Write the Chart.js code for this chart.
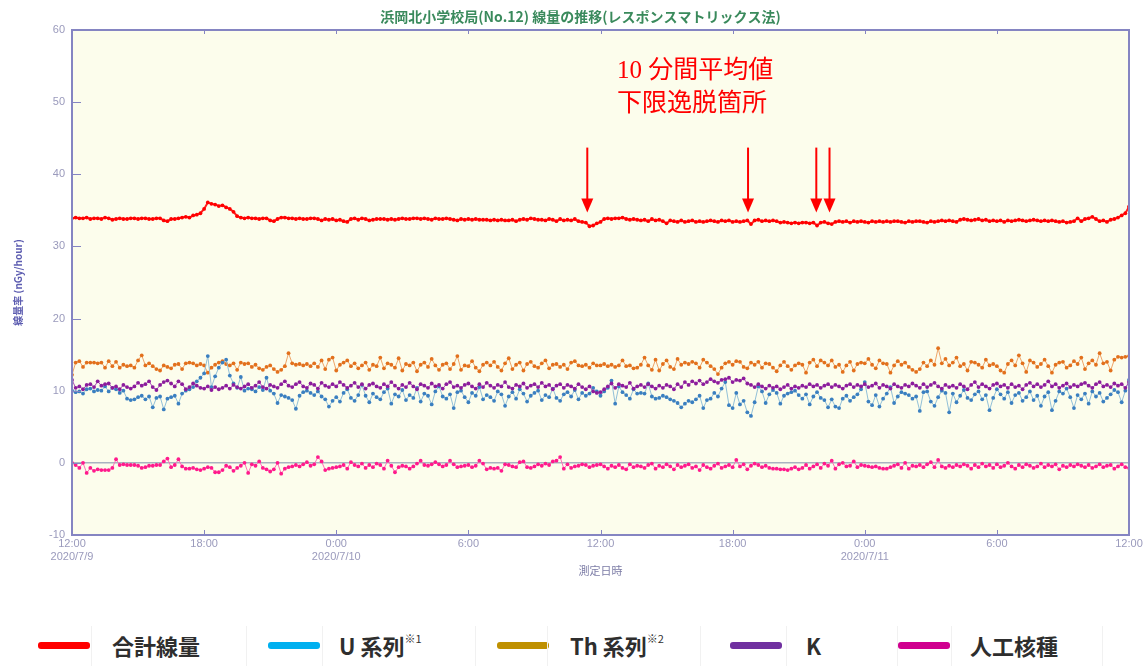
<!DOCTYPE html>
<html lang="ja">
<head>
<meta charset="utf-8">
<title>浜岡北小学校局 線量の推移</title>
<script src="https://cdn.jsdelivr.net/npm/chart.js@4.4.1/dist/chart.umd.min.js"></script>
<style>
  html, body { margin: 0; padding: 0; background: #fff; }
  #wrap { position: relative; width: 1147px; height: 666px; overflow: hidden; }
  #chart { position: absolute; left: 0; top: 0; }
  .legend { position: absolute; left: 0; top: 626px; width: 1147px; height: 40px;
            font-family: "Noto Sans CJK JP", sans-serif; font-weight: bold; font-size: 22px; color: #2e2e2e; }
  .swatch { position: absolute; top: 16px; width: 52px; height: 7px; border-radius: 3px; }
  .cell { position: absolute; top: 0; height: 40px; border-left: 1px solid #f1f1f1; border-right: 1px solid #f1f1f1; }
  .txt { position: absolute; top: 2px; line-height: 34px; white-space: nowrap; }
  .txt sup { font-size: 11px; vertical-align: top; line-height: 20px; font-weight: normal; }
</style>
</head>
<body>
<div id="wrap">
  <canvas id="chart" width="1147" height="600"></canvas>
  <div class="legend">
    <div class="swatch" style="left:38px;background:#ff0000"></div>
    <div class="cell" style="left:91px;width:154px"></div><div class="txt" style="left:112px">合計線量</div>
    <div class="swatch" style="left:268px;background:#00b0f0"></div>
    <div class="cell" style="left:322px;width:152px"></div><div class="txt" style="left:339px">U 系列<sup>※1</sup></div>
    <div class="swatch" style="left:497px;background:#bf9000"></div>
    <div class="cell" style="left:547px;width:152px"></div><div class="txt" style="left:570px">Th 系列<sup>※2</sup></div>
    <div class="swatch" style="left:730px;background:#7030a0"></div>
    <div class="cell" style="left:786px;width:110px"></div><div class="txt" style="left:806px">K</div>
    <div class="swatch" style="left:898px;background:#d0008f"></div>
    <div class="cell" style="left:951px;width:150px"></div><div class="txt" style="left:970px">人工核種</div>
  </div>
</div>
<script>
// 10-minute values from 2020/7/9 12:00 to 2020/7/11 12:00 (nGy/hour)
const stepHours = 1 / 6;

const totalDose = [
  33.9,34.0,33.9,33.9,34.0,33.8,33.9,33.9,33.8,34.0,33.9,33.7,
  33.8,33.9,33.8,33.8,33.9,33.9,33.8,33.9,33.9,33.8,33.8,33.9,
  33.9,33.6,33.5,33.8,33.8,33.9,34.0,34.1,34.0,34.3,34.4,34.6,
  35.2,36.1,35.9,35.8,35.6,35.7,35.4,35.2,34.8,34.2,34.0,33.9,
  34.0,33.9,33.9,33.8,33.9,33.9,33.6,33.5,33.8,34.0,34.0,33.9,
  33.9,33.8,33.9,33.8,33.8,33.9,33.9,33.8,33.6,33.8,33.7,33.8,
  33.6,33.7,33.5,33.4,33.8,33.9,33.7,33.9,33.8,33.6,33.7,33.8,
  33.8,33.8,33.7,33.8,33.7,33.8,33.9,33.8,33.8,33.9,33.9,33.8,
  33.9,33.8,33.7,33.9,33.8,33.8,33.9,33.8,33.7,33.6,33.8,33.7,
  33.8,33.7,33.8,33.7,33.7,33.7,33.6,33.7,33.6,33.7,33.6,33.6,
  33.7,33.5,33.7,33.8,33.7,33.9,33.8,33.7,33.7,33.6,33.8,33.7,
  33.5,33.8,33.6,33.7,33.6,33.8,33.5,33.4,33.3,32.8,32.9,33.2,
  33.4,33.8,33.9,33.8,33.9,33.9,34.0,33.8,33.7,33.8,33.7,33.6,
  33.7,33.5,33.8,33.6,33.7,33.5,33.2,33.6,33.5,33.4,33.6,33.4,
  33.5,33.6,33.4,33.5,33.4,33.5,33.6,33.5,33.4,33.6,33.5,33.6,
  33.4,33.5,33.4,33.5,33.6,33.1,33.6,33.7,33.5,33.6,33.5,33.6,
  33.5,33.3,33.4,33.3,33.2,33.3,33.2,33.3,33.3,33.2,33.3,32.9,
  33.3,33.4,33.2,33.1,33.4,33.5,33.4,33.5,33.3,33.5,33.4,33.5,
  33.4,33.3,33.5,33.4,33.5,33.4,33.5,33.4,33.5,33.5,33.4,33.3,
  33.5,33.4,33.5,33.5,33.4,33.3,33.5,33.4,33.5,33.6,33.5,33.6,
  33.5,33.4,33.7,33.8,33.7,33.6,33.7,33.8,33.6,33.7,33.5,33.6,
  33.5,33.6,33.4,33.6,33.5,33.6,33.7,33.6,33.5,33.6,33.7,33.6,
  33.5,33.6,33.5,33.6,33.5,33.4,33.5,33.3,33.4,33.5,33.9,33.5,
  33.8,33.9,34.1,33.8,33.5,33.6,33.4,33.7,33.8,34.0,34.3,34.6,
  35.5
];

const uSeries = [
  10.0,9.8,9.9,9.6,10.2,10.3,9.9,10.1,10.0,10.6,9.9,10.4,
  10.2,9.7,10.0,8.9,8.7,8.8,9.1,9.3,8.8,9.2,7.7,9.0,
  9.2,7.4,8.9,9.1,9.3,8.2,9.6,10.0,10.2,10.5,11.3,11.8,
  12.4,14.8,10.5,12.0,13.2,13.9,14.3,12.1,11.0,10.4,11.9,10.0,
  10.3,10.2,9.9,10.5,10.1,11.8,10.0,9.6,8.3,9.4,9.2,9.0,
  8.7,7.5,9.3,9.8,10.0,9.7,9.4,9.9,9.2,8.8,7.8,8.6,
  9.1,8.5,9.7,10.2,9.0,8.6,9.4,10.8,9.3,8.4,9.6,9.1,
  8.8,9.8,10.3,8.2,9.5,9.2,10.1,8.7,9.4,9.0,10.4,8.5,
  9.6,9.3,8.1,9.9,10.6,9.2,8.9,9.5,7.6,9.8,10.0,9.1,
  8.4,9.7,9.3,10.5,8.8,9.4,9.1,8.6,9.9,9.5,7.9,9.2,
  9.8,8.9,10.2,9.6,8.5,9.3,9.7,10.0,8.7,9.4,9.1,10.3,
  9.0,8.6,9.5,9.8,9.2,10.1,8.8,9.7,9.3,9.6,10.4,9.9,
  9.3,9.9,10.4,11.4,8.2,10.6,9.8,9.4,8.9,10.2,9.6,9.7,
  9.6,11.0,9.2,8.9,9.0,9.3,9.1,8.8,8.6,8.3,7.7,8.2,
  8.6,8.4,8.8,9.3,7.6,8.7,8.9,9.7,9.2,10.3,11.2,8.0,
  7.6,9.7,8.1,8.6,7.0,6.5,8.4,10.6,9.9,8.3,9.5,10.1,
  9.7,8.2,9.3,9.6,9.8,10.0,9.4,8.9,9.5,8.1,9.2,9.8,
  9.0,8.7,7.7,8.8,7.8,7.6,8.9,9.3,8.6,9.1,9.5,10.2,
  11.2,8.5,8.0,9.4,7.8,8.9,9.6,10.5,8.3,9.2,9.8,9.6,
  9.4,8.9,9.2,7.2,9.8,9.9,8.5,7.9,9.1,10.0,9.7,7.0,
  9.6,8.4,9.3,10.1,9.0,8.7,9.5,9.9,8.8,9.4,7.3,9.0,
  10.2,9.5,8.9,9.8,8.3,9.4,9.7,8.6,9.1,9.9,8.7,9.3,
  7.9,9.2,9.8,7.3,8.6,9.9,9.6,10.3,9.1,7.6,9.4,8.8,
  9.6,8.2,9.9,9.2,9.7,8.5,9.0,9.5,10.1,9.8,8.4,10.0,
  11.5
];

const thSeries = [
  12.2,13.9,14.1,13.3,13.9,13.9,13.9,13.8,13.9,13.2,14.1,13.4,
  14.0,13.2,13.6,13.4,13.5,13.2,14.2,14.9,13.5,13.8,13.4,13.0,
  12.8,13.5,13.3,13.1,13.6,13.7,13.0,13.8,13.9,13.8,13.5,13.7,
  13.5,12.5,13.2,13.6,13.9,14.1,13.7,13.5,13.8,12.9,13.9,13.7,
  13.8,13.3,13.6,13.1,12.9,13.3,13.5,13.0,12.6,12.9,13.4,15.2,
  13.8,13.6,13.7,13.5,13.7,13.4,13.8,13.3,14.2,13.0,14.3,14.6,
  12.8,13.6,13.9,14.2,13.4,13.8,13.1,13.5,13.9,12.9,13.6,13.4,
  14.6,13.1,13.8,13.6,13.2,14.5,12.8,13.7,13.5,13.9,12.7,13.6,
  13.9,13.3,14.4,13.5,12.9,13.6,13.8,13.0,13.7,14.8,12.9,13.5,
  13.4,14.1,13.2,12.7,13.6,13.9,13.5,14.0,13.3,12.8,13.8,14.5,
  13.0,13.6,13.9,12.8,13.7,14.0,13.4,13.2,13.8,14.2,13.1,13.6,
  13.7,13.3,13.6,13.0,13.9,14.1,13.5,13.4,13.6,13.2,13.8,13.5,
  13.5,13.7,13.4,13.6,13.3,13.5,14.2,13.4,13.5,13.1,13.2,13.6,
  14.6,13.5,12.9,14.3,12.8,13.7,14.2,13.3,13.0,14.4,13.6,13.9,
  13.7,14.0,13.8,13.2,14.3,13.9,13.4,13.0,12.3,13.2,13.8,14.0,
  13.6,14.1,14.0,13.3,13.1,13.9,13.6,14.0,13.2,13.8,13.7,13.2,
  12.7,13.5,14.0,13.4,12.9,13.5,13.8,13.6,12.5,13.9,14.3,13.4,
  14.2,13.9,13.5,14.2,13.3,13.6,12.6,13.5,14.0,12.8,13.7,13.9,
  13.8,14.4,13.6,13.1,14.2,13.8,13.7,12.5,13.5,14.1,13.6,13.9,
  13.3,12.9,12.6,13.0,13.9,13.4,14.2,13.6,15.9,13.8,14.4,13.5,
  13.9,14.6,13.4,13.7,12.8,14.0,13.9,13.6,13.2,14.3,13.5,13.7,
  13.4,12.8,12.5,13.7,14.2,13.5,14.9,13.8,12.6,14.2,13.9,13.3,
  13.7,14.3,13.4,12.5,13.6,13.9,14.0,13.2,13.5,14.1,13.7,14.6,
  13.0,13.8,14.2,13.6,15.2,13.8,14.0,12.8,14.3,14.7,14.6,14.7,
  14.8
];

const kSeries = [
  11.5,10.4,10.6,10.2,10.8,10.9,10.5,11.3,10.7,10.9,11.0,10.4,
  10.6,10.2,10.8,10.5,10.3,10.6,11.1,10.7,10.9,11.3,10.5,10.1,
  10.8,11.2,11.4,11.0,10.6,11.3,10.9,10.2,10.5,11.0,10.7,10.4,
  10.3,10.6,10.1,10.5,10.2,10.4,10.7,10.3,10.8,10.5,10.3,10.6,
  10.9,10.4,10.7,11.2,10.5,10.3,10.8,10.6,10.4,10.9,11.3,10.7,
  10.5,10.9,11.2,10.6,10.4,11.0,10.8,10.3,11.1,10.7,10.5,10.9,
  10.6,11.2,10.8,10.4,10.7,11.1,10.5,10.9,10.3,10.8,11.0,10.6,
  10.4,10.9,10.6,11.2,10.7,10.3,10.8,10.5,11.1,10.6,10.2,10.9,
  10.7,10.4,11.0,10.6,10.8,10.3,10.9,11.2,10.5,10.7,10.4,10.8,
  11.0,10.6,10.3,10.9,10.5,11.1,10.7,10.4,10.8,10.6,11.2,10.5,
  10.3,10.8,10.6,11.0,10.4,10.7,10.9,10.5,11.1,10.6,10.8,10.2,
  10.7,10.9,10.4,10.8,10.6,10.3,10.9,10.5,10.2,10.6,9.9,9.7,
  9.8,10.2,10.6,11.0,10.4,10.9,10.7,10.5,11.1,10.3,10.6,10.8,
  10.5,10.9,10.6,10.3,10.7,10.4,10.8,10.6,10.2,10.9,10.5,11.2,
  10.8,11.3,11.0,11.4,10.9,11.2,11.6,11.3,11.1,11.5,11.6,11.8,
  11.2,11.5,11.4,11.7,11.0,10.8,10.5,10.9,10.6,10.3,10.7,10.4,
  10.6,10.2,10.5,10.8,10.3,10.6,10.4,10.7,10.5,10.9,10.6,10.8,
  10.4,10.7,10.9,10.5,10.8,10.6,10.3,10.7,10.9,10.5,10.8,10.6,
  10.9,10.5,10.7,11.0,10.4,10.8,10.6,10.3,10.9,10.6,10.4,10.8,
  10.6,11.0,10.7,10.4,10.9,10.5,10.8,11.1,10.6,10.3,10.8,10.5,
  10.7,10.4,10.9,10.6,10.2,10.8,11.2,10.5,10.9,10.6,10.3,10.8,
  11.0,10.6,10.8,10.4,10.9,10.5,10.7,10.2,10.8,11.1,10.6,10.9,
  10.5,10.8,11.3,10.6,10.9,10.4,10.7,11.0,10.5,10.8,10.6,10.9,
  11.1,10.7,10.4,10.9,11.2,10.6,10.8,10.5,11.0,10.7,10.9,10.4,
  11.2
];

const artificial = [
  0.0,-0.3,-0.7,0.0,-1.4,-0.7,-1.1,-0.9,-1.0,-1.0,-1.0,-0.7,
  0.5,-0.3,-0.2,-0.3,-0.3,-0.3,-0.4,-0.7,-0.6,-0.4,-0.4,-0.3,
  -0.3,0.2,0.6,-0.6,-0.3,0.5,-0.5,-0.8,-0.8,-0.7,-0.9,-1.0,
  -0.8,-0.6,-0.7,-1.3,-1.3,-1.0,-0.4,-0.6,-1.1,-0.7,-0.4,0.0,
  -1.4,-0.2,-0.4,0.2,-0.7,-0.9,-1.2,-0.9,0.0,-1.5,-0.8,-0.6,
  -0.5,-0.3,-0.5,-0.2,0.1,-0.4,-0.2,0.8,0.2,-1.0,-0.8,-0.7,
  -0.6,-0.5,-0.3,-0.8,0.1,-0.3,-0.5,-0.1,-0.7,-0.3,-0.6,-0.1,
  -0.3,-0.8,0.3,-0.4,-1.3,-0.6,-0.4,-0.5,-0.8,-0.5,-0.1,0.3,
  -0.3,-0.4,-0.2,0.1,-0.2,-0.5,-0.3,0.3,-0.2,-0.6,-0.5,-0.4,
  -0.3,-0.6,-0.4,0.3,-0.1,-0.9,-0.7,-0.8,-0.7,-1.1,-0.2,-0.3,
  -0.5,-0.6,0.1,0.2,-0.6,-0.7,-0.5,-0.2,-0.4,-0.1,-0.3,0.2,
  0.3,0.8,-0.8,-0.2,-0.7,-0.5,-0.4,-0.2,-0.3,-0.6,-0.4,-0.3,
  -0.2,-0.5,-0.8,-0.4,-0.6,-0.3,-0.7,-0.9,-0.2,-0.6,-0.4,-0.5,
  -0.7,-0.3,-0.1,-0.8,-0.4,-0.6,-0.2,-0.5,-0.9,-0.3,-0.6,-0.4,
  -0.2,-0.7,-0.5,-1.0,-0.3,-0.6,-0.8,-0.4,-0.1,-0.7,-0.5,-0.3,
  -0.6,0.4,-0.5,-0.2,-0.9,-0.4,-0.1,-0.3,-0.6,-0.4,-0.7,-0.8,
  -0.8,-0.9,-0.9,-1.0,-0.8,-0.6,-0.9,-0.7,-0.3,-0.8,-0.5,-0.2,
  -0.7,-0.1,-0.4,0.3,-0.8,-0.2,0.0,-0.5,-0.4,0.2,-0.6,-0.3,
  -0.4,-0.5,-0.6,-0.5,-0.7,-0.8,-0.8,-0.6,-0.4,-0.2,-0.7,0.0,
  -0.8,-0.4,-0.5,-0.3,-0.6,-0.2,0.1,-0.6,0.4,-0.5,-0.7,-0.4,
  -0.6,-0.3,-0.5,-0.2,-0.4,-0.8,-0.3,-0.6,-0.1,-0.5,-0.3,-0.7,
  -0.2,-0.6,-0.4,0.0,-0.5,-0.8,-0.3,-0.6,-0.2,-0.4,-0.7,-0.5,
  -0.1,-0.6,-0.3,-0.5,-0.2,-0.9,-0.4,-0.6,-0.3,-0.5,-0.2,-0.4,
  -0.6,-0.3,-0.7,-0.5,-0.2,-0.6,-0.4,-0.3,-0.8,-0.5,-0.2,-0.6,
  -0.7
];

// x axis ticks every 6 hours
const tickTimes = ['12:00', '18:00', '0:00', '6:00', '12:00', '18:00', '0:00', '6:00', '12:00'];
const tickDates = ['2020/7/9', '', '2020/7/10', '', '', '', '2020/7/11', '', ''];

// "10 分間平均値 下限逸脱箇所" arrows (hours since start)
const arrowHours = [23.4, 30.7, 33.8, 34.4];

const chartTitle = '浜岡北小学校局(No.12) 線量の推移(レスポンスマトリックス法)';

function toPoints(values) {
  return values.map((v, i) => ({ x: i * stepHours, y: v }));
}

function series(label, values, pointColor, lineColor, width) {
  return {
    label: label,
    data: toPoints(values),
    borderColor: lineColor,
    backgroundColor: pointColor,
    pointBackgroundColor: pointColor,
    pointBorderColor: pointColor,
    borderWidth: width,
    pointRadius: 1.9,
    pointBorderWidth: 0,
    tension: 0
  };
}

// plot background, frame, inside tick marks, title and the red notes
const framePlugin = {
  id: 'frame',
  beforeDraw(chart) {
    const { ctx, chartArea: a } = chart;
    ctx.save();
    ctx.fillStyle = '#fcfdec';
    ctx.fillRect(a.left, a.top, a.right - a.left, a.bottom - a.top);
    ctx.restore();
  },
  afterDraw(chart) {
    const { ctx, chartArea: a, scales } = chart;
    ctx.save();
    ctx.strokeStyle = '#8585c2';
    ctx.lineWidth = 1;
    scales.y.ticks.forEach(t => {
      const py = Math.round(scales.y.getPixelForValue(t.value)) + 0.5;
      ctx.beginPath();
      ctx.moveTo(a.left, py); ctx.lineTo(a.left + 9, py);
      ctx.stroke();
    });
    scales.x.ticks.forEach(t => {
      const px = Math.round(scales.x.getPixelForValue(t.value)) + 0.5;
      ctx.beginPath();
      ctx.moveTo(px, a.bottom); ctx.lineTo(px, a.bottom - 5);
      ctx.moveTo(px, a.top); ctx.lineTo(px, a.top + 4);
      ctx.stroke();
    });
    ctx.lineWidth = 2;
    ctx.strokeRect(a.left, a.top, a.right - a.left, a.bottom - a.top);

    // title, slightly left of the plot centre as in the source
    ctx.fillStyle = '#3a8a5c';
    ctx.font = 'bold 14px "Noto Sans CJK JP", sans-serif';
    ctx.textAlign = 'center';
    ctx.textBaseline = 'middle';
    ctx.fillText(chartTitle, (a.left + a.right) / 2 - 20, a.top - 13);

    // notes
    ctx.textAlign = 'left';
    ctx.fillStyle = '#ff0000';
    ctx.strokeStyle = '#ff0000';
    ctx.font = '25px "Liberation Serif", "Noto Sans CJK JP", serif';
    const tx = scales.x.getPixelForValue(24.75);
    ctx.fillText('10 分間平均値', tx, scales.y.getPixelForValue(54.3));
    ctx.fillText('下限逸脱箇所', tx, scales.y.getPixelForValue(49.7));

    const yTop = scales.y.getPixelForValue(43.7);
    const yTip = scales.y.getPixelForValue(34.7);
    ctx.lineWidth = 2;
    arrowHours.forEach(h => {
      const px = scales.x.getPixelForValue(h);
      ctx.beginPath();
      ctx.moveTo(px, yTop); ctx.lineTo(px, yTip - 12);
      ctx.stroke();
      ctx.beginPath();
      ctx.moveTo(px - 6, yTip - 14);
      ctx.lineTo(px + 6, yTip - 14);
      ctx.lineTo(px, yTip);
      ctx.closePath();
      ctx.fill();
    });
    ctx.restore();
  }
};

const tickFont = { family: '"Liberation Sans", "Noto Sans CJK JP", sans-serif', size: 11 };

new Chart(document.getElementById('chart'), {
  type: 'line',
  data: {
    datasets: [
      series('合計線量', totalDose, '#ff0000', '#ff2020', 2),
      series('人工核種', artificial, '#ff1a8c', '#ff70b8', 1),
      series('K', kSeries, '#8c1c9c', '#a850b8', 1),
      series('U 系列', uSeries, '#3a7fc0', '#92c0d8', 1),
      series('Th 系列', thSeries, '#e2701c', '#eea468', 1)
    ]
  },
  options: {
    responsive: false,
    animation: false,
    layout: { padding: { top: 30, right: 18, bottom: 15, left: 0 } },
    plugins: {
      legend: { display: false },
      tooltip: { enabled: false },
      title: { display: false }
    },
    scales: {
      x: {
        type: 'linear',
        min: 0,
        max: 48,
        afterFit: s => { s.height = 50; },
        border: { display: false },
        grid: { display: false, drawTicks: false },
        ticks: {
          stepSize: 6,
          padding: 2,
          color: '#9a9abc',
          font: tickFont,
          maxRotation: 0,
          callback: v => {
            const k = Math.round(v / 6);
            return tickDates[k] ? [tickTimes[k], tickDates[k]] : tickTimes[k];
          }
        },
        title: {
          display: true,
          text: '測定日時',
          color: '#7c7ca6',
          font: { family: '"Noto Sans CJK JP", sans-serif', size: 11 },
          padding: { top: 0, bottom: 8 }
        }
      },
      y: {
        min: -10,
        max: 60,
        afterFit: s => { s.width = 72; },
        border: { display: false },
        grid: {
          drawTicks: false,
          lineWidth: 1.5,
          color: c => (c.tick && c.tick.value === 0 ? '#a9b3c0' : 'rgba(0,0,0,0)')
        },
        ticks: { stepSize: 10, padding: 7, color: '#9a9abc', font: tickFont },
        title: {
          display: true,
          text: '線量率 (nGy/hour)',
          color: '#5c5cb0',
          font: { family: '"Noto Sans CJK JP", sans-serif', size: 10, weight: 'bold' },
          padding: { top: 12, bottom: 0 }
        }
      }
    }
  },
  plugins: [framePlugin]
});
</script>
</body>
</html>
